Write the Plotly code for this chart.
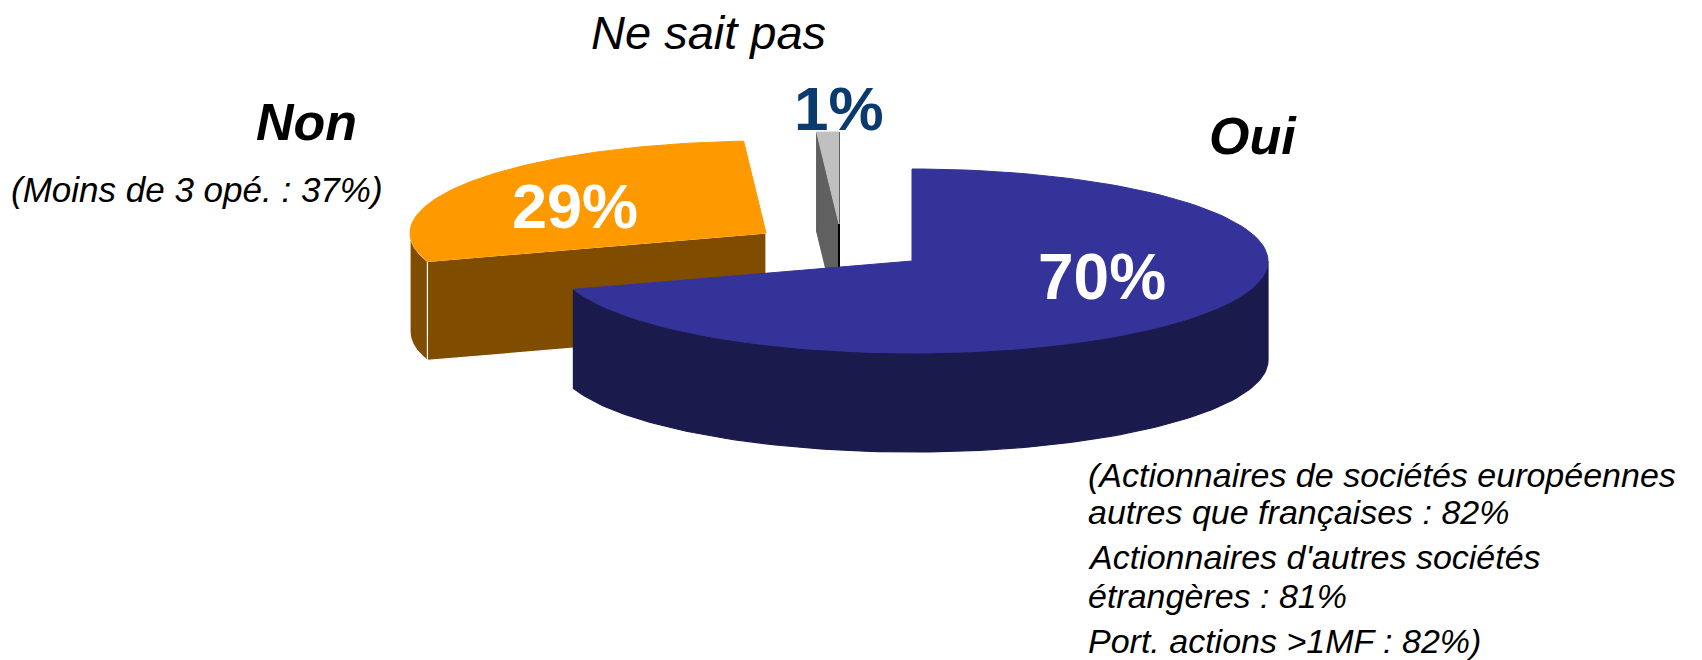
import numpy as np
import plotly.graph_objects as go

# ---------------- data ----------------
labels = ["Oui", "Non", "Ne sait pas"]
values = [70, 29, 1]
note_non = "(Moins de 3 opé. : 37%)"
note_oui = [
    "(Actionnaires de sociétés européennes",
    "autres que françaises : 82%",
    "Actionnaires d'autres sociétés",
    "étrangères : 81%",
    "Port. actions >1MF : 82%)",
]

# ---------------- style / geometry ----------------
W, H = 1702, 660
CX, CY = 912, 261          # centre of the (non exploded) pie top
RX, RY = 356, 92           # ellipse radii of the top face
DEPTH = 99                 # thickness of the pie
offsets = {"Oui": (0, 0), "Non": (-146, -28), "Ne sait pas": (-73, -37)}
top_col = {"Oui": "#333399", "Non": "#FF9900", "Ne sait pas": "#C0C0C0"}
side_col = {"Oui": "#1B1A4D", "Non": "#804C00", "Ne sait pas": "#606060"}
edge_col = {"Oui": None, "Non": "#FFFFFF", "Ne sait pas": None}
FONT = "Arial, Liberation Sans, Helvetica, sans-serif"

total = float(sum(values))
bounds = np.concatenate([[0.0], np.cumsum(values) / total * 360.0])


def pt(th, cx, cy, z=0.0):
    t = np.radians(th)
    return cx + RX * np.sin(t), cy - RY * np.cos(t) + z


def arc(a0, a1, cx, cy, z=0.0, n=120):
    th = np.radians(np.linspace(a0, a1, n))
    return cx + RX * np.sin(th), cy - RY * np.cos(th) + z


fig = go.Figure()


def poly(xs, ys, fill, line=None, width=1.0):
    fig.add_trace(go.Scatter(
        x=list(xs) + [xs[0]], y=list(ys) + [ys[0]], mode="lines",
        fill="toself", fillcolor=fill,
        line=dict(color=line if line else fill, width=width),
        hoverinfo="skip", showlegend=False))


slices = []
for i, lab in enumerate(labels):
    dx, dy = offsets[lab]
    slices.append((CY + dy, i, lab, bounds[i], bounds[i + 1], CX + dx, CY + dy))
slices.sort()  # back to front

for _, i, lab, a0, a1, cx, cy in slices:
    sc = side_col[lab]
    ec = edge_col[lab]
    # cut face on the start edge
    if -np.cos(np.radians(a0 - 90)) > 0.02:
        px, py = pt(a0, cx, cy)
        poly([cx, px, px, cx], [cy, py, py + DEPTH, cy + DEPTH], sc, ec, 1.2)
    # cut face on the end edge
    if -np.cos(np.radians(a1 + 90)) > 0.02:
        px, py = pt(a1, cx, cy)
        poly([cx, px, px, cx], [cy, py, py + DEPTH, cy + DEPTH], sc, ec, 1.2)
    # visible part of outer rim (front half 90..270)
    r0, r1 = max(a0, 90.0), min(a1, 270.0)
    if r1 > r0:
        tx, ty = arc(r0, r1, cx, cy)
        bx, by = arc(r1, r0, cx, cy, DEPTH)
        poly(np.concatenate([tx, bx]), np.concatenate([ty, by]), sc, ec, 1.2)
    # edge-on face at the end radius of the small slice
    if lab == "Ne sait pas":
        px, py = pt(a1, cx, cy)
        fig.add_trace(go.Scatter(x=[px, px], y=[py, cy + DEPTH], mode="lines",
                                 line=dict(color="#000000", width=2),
                                 hoverinfo="skip", showlegend=False))
    # top face
    ax, ay = arc(a0, a1, cx, cy)
    poly(np.concatenate([[cx], ax]), np.concatenate([[cy], ay]), top_col[lab])

# ---------------- texts ----------------
ann = []


def txt(x, y, s, size, color="#000000", bold=False, italic=False, xanchor="center"):
    if bold:
        s = "<b>" + s + "</b>"
    if italic:
        s = "<i>" + s + "</i>"
    ann.append(dict(x=x, y=y, xref="x", yref="y", text=s, showarrow=False,
                    xanchor=xanchor, yanchor="middle",
                    font=dict(family=FONT, size=size, color=color)))


pct = {lab: f"{v}%" for lab, v in zip(labels, values)}
txt(1102, 277, pct["Oui"], 64, "#FFFFFF", bold=True)
txt(575, 206, pct["Non"], 63, "#FFFFFF", bold=True)
txt(839, 108, pct["Ne sait pas"], 62, "#0A3A6E", bold=True)

txt(1253, 136, labels[0], 52, bold=True, italic=True)
txt(306, 122, labels[1], 52, bold=True, italic=True)
txt(708, 32, labels[2], 47, italic=True)

txt(197, 189, note_non, 35, italic=True)
note_y = [475, 512, 557, 596, 641]
for k, line in enumerate(note_oui):
    txt(1086, note_y[k], line, 34, italic=True, xanchor="left")

fig.update_layout(
    width=W, height=H, margin=dict(l=0, r=0, t=0, b=0, pad=0),
    paper_bgcolor="white", plot_bgcolor="white",
    xaxis=dict(range=[0, W], visible=False, fixedrange=True, domain=[0, 1]),
    yaxis=dict(range=[H, 0], visible=False, fixedrange=True, domain=[0, 1]),
    annotations=ann, showlegend=False,
)

fig.write_html("out.html", config={"displayModeBar": False},
               post_script="document.body.style.margin='0';document.body.style.overflow='hidden';")
